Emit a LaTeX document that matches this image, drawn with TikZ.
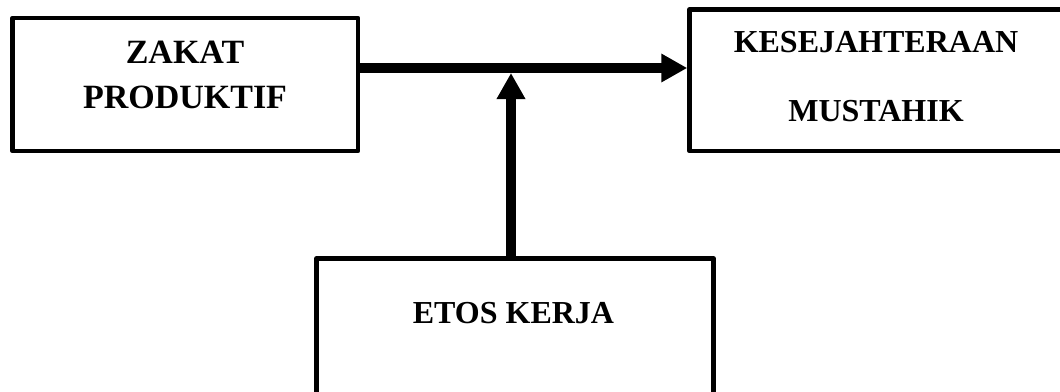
\documentclass[tikz,border=0pt]{standalone}
\usepackage{fontspec}
\setmainfont{Liberation Serif}
\usetikzlibrary{arrows.meta}
\begin{document}
\begin{tikzpicture}[x=1pt,y=-1pt,
  box/.style={draw=black,line width=4.5pt,line join=round,fill=white,inner sep=0pt},
  lbl/.style={anchor=base,inner sep=0pt,font=\bfseries\fontsize{#1}{#1}\selectfont},
  lbl/.default=34pt,
  conn/.style={line width=9.5pt,-{Triangle[length=26pt,width=27pt]}}]
\fill[white] (0,0) rectangle (1060,391);
\useasboundingbox (0,0) rectangle (1060,391);
\clip (0,0) rectangle (1060,391);
\node[box,minimum width=345.5pt,minimum height=133pt] (zakat) at (185.25,84.5) {};
\node[box,minimum width=372.5pt,minimum height=141.5pt] (kes) at (875.75,80.25) {};
\node[box,minimum width=397pt,minimum height=161.5pt] (etos) at (515,339.25) {};
\node[lbl] (t1) at (185,63) {ZAKAT};
\node[lbl] (t2) at (185,108) {PRODUKTIF};
\node[lbl=32pt] (t3) at (876,52) {KESEJAHTERAAN};
\node[lbl=32pt] (t4) at (876,121) {MUSTAHIK};
\node[lbl=32pt] (t5) at (513.5,323) {ETOS KERJA};
\coordinate (j) at (511,68);
\coordinate (jb) at (511,73);
\draw[conn] (zakat.east |- j) -- (kes.west |- j);
\draw[conn] (jb |- etos.north) -- (jb);
\end{tikzpicture}
\end{document}
